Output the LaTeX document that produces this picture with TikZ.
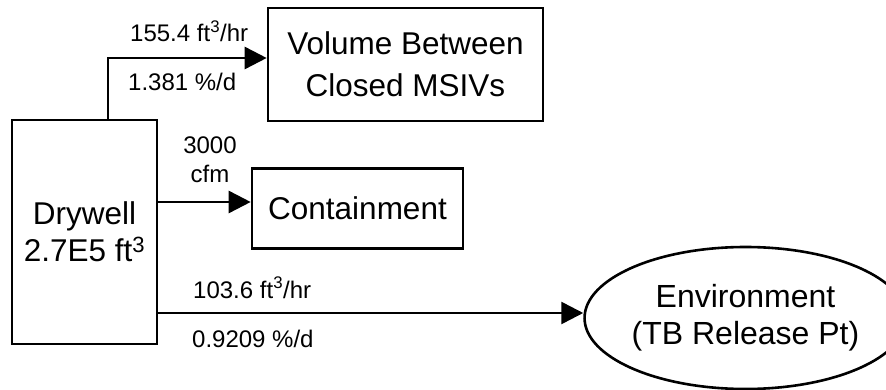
\documentclass[tikz,border=0pt]{standalone}
\usepackage{fontspec}
\setmainfont{Liberation Sans}
\usetikzlibrary{arrows.meta,shapes.geometric}
\tikzset{
  box/.style={draw,line width=2.6pt,rectangle,inner sep=0pt,align=center,font=\fontsize{31.5}{37}\selectfont},
  envshape/.style={draw,line width=2.6pt,ellipse,inner sep=0pt,align=center,font=\fontsize{32}{37}\selectfont},
  lbl/.style={inner sep=0pt,font=\fontsize{24}{29}\selectfont},
  arr/.style={line width=2.6pt,-{Triangle[length=22pt,width=22pt]}}
}
\begin{document}
\begin{tikzpicture}[x=1pt,y=-1pt]
\useasboundingbox (0,0) rectangle (886,390);
\node[box,minimum width=145pt,minimum height=224pt] (dw) at (84.5,232) {Drywell\\2.7E5 ft\textsuperscript{3}};
\node[box,minimum width=275pt,minimum height=113pt,font=\fontsize{31.5}{42}\selectfont] (vol) at (405.5,64.5) {Volume Between\\Closed MSIVs};
\node[box,minimum width=211pt,minimum height=80pt] (cont) at (357.5,208.5) {Containment};
\node[envshape,minimum width=279pt,minimum height=142pt] (env) at (745.5,318) {Environment\\(TB Release Pt)};
\coordinate (s1) at (108,120);
\coordinate (m1) at (0,58);
\coordinate (m2) at (0,202);
\coordinate (m3) at (0,313);
\draw[arr] (s1) |- (vol.west |- m1);
\draw[arr] (dw.east |- m2) -- (cont.west |- m2);
\draw[arr] (dw.east |- m3) -- (env.west |- m3);
\node[lbl,anchor=base west] (l1) at (130,42) {155.4 ft\textsuperscript{3}/hr};
\node[lbl,anchor=base west] (l2) at (128,91) {1.381 \%/d};
\node[lbl,anchor=base,align=center] (l3) at (210,183) {3000\\cfm};
\node[lbl,anchor=base west] (l4) at (193,298) {103.6 ft\textsuperscript{3}/hr};
\node[lbl,anchor=base west] (l5) at (192,347) {0.9209 \%/d};
\end{tikzpicture}
\end{document}
